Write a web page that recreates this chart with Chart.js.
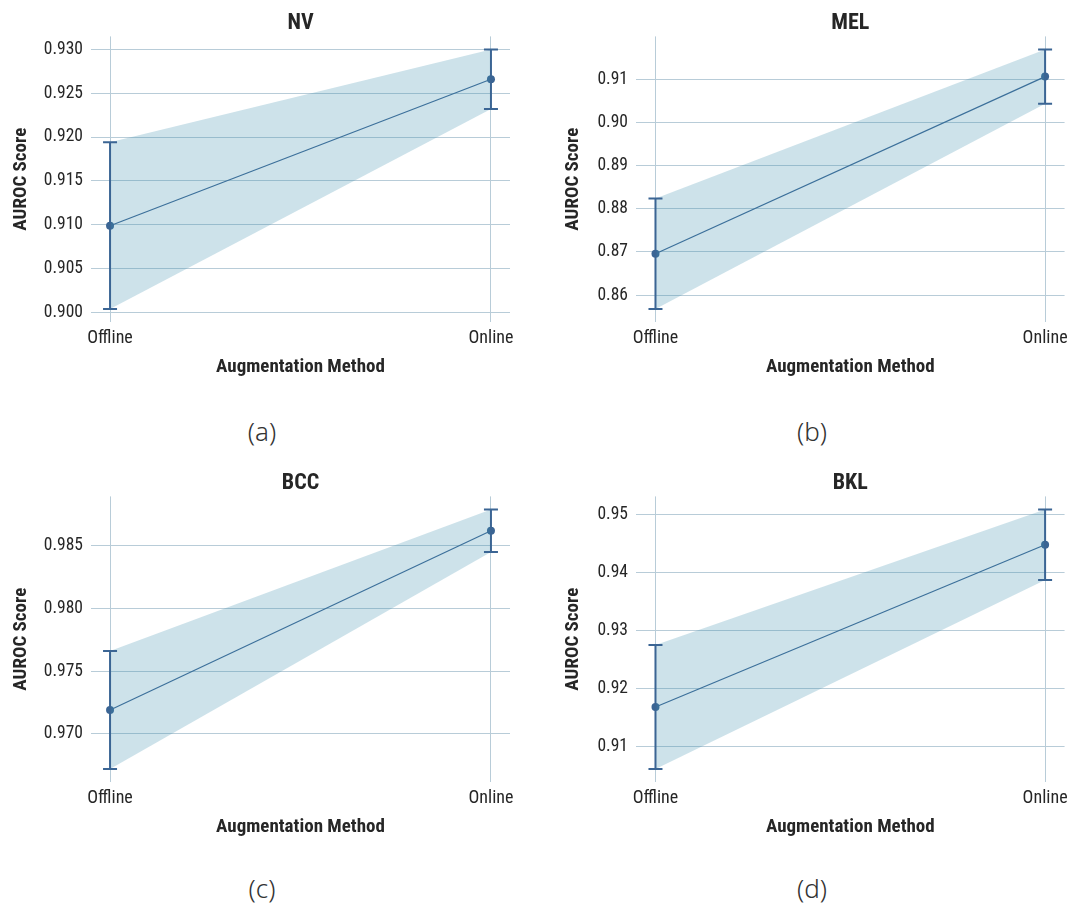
<!DOCTYPE html>
<html lang="en">
<head>
<meta charset="UTF-8">
<title>AUROC by augmentation method</title>
<script src="https://cdn.jsdelivr.net/npm/chart.js"></script>
<style>
    body {
        margin: 0;
        background: #fff;
        width: 1074px;
        height: 906px;
        position: relative;
        overflow: hidden;
    }
    .panel {
        position: absolute;
        height: 400px;
    }
    .caption {
        position: absolute;
        font-family: 'Noto Sans', sans-serif;
        font-weight: 300;
        font-size: 26px;
        color: #333;
        transform: translate(-50%, -50%);
    }
</style>
</head>
<body>
<div class="panel" style="left:0;top:0;width:530px"><canvas id="nv"></canvas></div>
<div class="panel" style="left:540px;top:0;width:534px"><canvas id="mel"></canvas></div>
<div class="panel" style="left:0;top:460px;width:530px"><canvas id="bcc"></canvas></div>
<div class="panel" style="left:540px;top:460px;width:534px"><canvas id="bkl"></canvas></div>

<div class="caption" style="left:262px;top:431px">(a)</div>
<div class="caption" style="left:812px;top:431px">(b)</div>
<div class="caption" style="left:262px;top:888px">(c)</div>
<div class="caption" style="left:812px;top:888px">(d)</div>

<script>
    const categories = ['Offline', 'Online'];

    const nvMean = [0.9099, 0.9266];
    const nvStd = [0.0095, 0.0034];
    const nvTicks = [0.900, 0.905, 0.910, 0.915, 0.920, 0.925, 0.930];

    const melMean = [0.8696, 0.9106];
    const melStd = [0.0128, 0.0063];
    const melTicks = [0.86, 0.87, 0.88, 0.89, 0.90, 0.91];

    const bccMean = [0.9719, 0.9862];
    const bccStd = [0.0047, 0.0017];
    const bccTicks = [0.970, 0.975, 0.980, 0.985];

    const bklMean = [0.9168, 0.9448];
    const bklStd = [0.0107, 0.0061];
    const bklTicks = [0.91, 0.92, 0.93, 0.94, 0.95];

    const FONT = "'Roboto Condensed', 'Liberation Sans Narrow', 'DejaVu Sans Condensed', Roboto, sans-serif";
    const LINE = '#3b6594';
    const GRID = '#b8ccd8';
    const TEXT = '#262626';

    // error bars drawn with the chart's own scales
    const errorBars = {
        id: 'errorBars',
        afterDatasetsDraw(chart, args, opts) {
            const { ctx, scales: { x, y } } = chart;
            ctx.save();
            ctx.strokeStyle = LINE;
            ctx.lineWidth = 2;
            opts.mean.forEach((m, i) => {
                const px = x.getPixelForValue(i);
                const top = y.getPixelForValue(m + opts.std[i]);
                const bot = y.getPixelForValue(m - opts.std[i]);
                ctx.beginPath();
                ctx.moveTo(px, top); ctx.lineTo(px, bot);
                ctx.moveTo(px - 7, top); ctx.lineTo(px + 7, top);
                ctx.moveTo(px - 7, bot); ctx.lineTo(px + 7, bot);
                ctx.stroke();
            });
            ctx.restore();
        }
    };

    function makeChart(id, title, mean, std, ticks, axisWidth, rightPad, yTitlePad) {
        const upper = mean.map((m, i) => ({ x: i, y: m + std[i] }));
        const lower = mean.map((m, i) => ({ x: i, y: m - std[i] }));
        const lo = Math.min(...lower.map(p => p.y));
        const hi = Math.max(...upper.map(p => p.y));
        const margin = (hi - lo) * 0.05;

        new Chart(document.getElementById(id), {
            type: 'line',
            data: {
                datasets: [
                    {
                        data: upper,
                        borderWidth: 0,
                        pointRadius: 0,
                        fill: false
                    },
                    {
                        data: lower,
                        borderWidth: 0,
                        pointRadius: 0,
                        fill: '-1',
                        backgroundColor: 'rgba(63,143,174,0.26)'
                    },
                    {
                        data: mean.map((m, i) => ({ x: i, y: m })),
                        borderColor: LINE,
                        borderWidth: 1.2,
                        pointRadius: 4,
                        pointBackgroundColor: LINE,
                        pointBorderWidth: 0,
                        fill: false
                    }
                ]
            },
            options: {
                responsive: true,
                maintainAspectRatio: false,
                animation: false,
                layout: { padding: { left: 0, right: rightPad, top: 0, bottom: 0 } },
                plugins: {
                    legend: { display: false },
                    tooltip: { enabled: false },
                    title: {
                        display: true,
                        text: title,
                        fullSize: false,
                        color: TEXT,
                        font: { family: FONT, size: 22, weight: 'bold', lineHeight: 1.2 },
                        padding: { top: 10, bottom: 0 }
                    },
                    errorBars: { mean: mean, std: std }
                },
                scales: {
                    x: {
                        type: 'linear',
                        min: -0.05,
                        max: 1.05,
                        afterBuildTicks: s => { s.ticks = [{ value: 0 }, { value: 1 }]; },
                        afterFit: s => { s.height = 78; },
                        ticks: {
                            callback: v => categories[v],
                            color: TEXT,
                            padding: 6,
                            maxRotation: 0,
                            font: { family: FONT, size: 18 }
                        },
                        grid: { color: GRID, lineWidth: 1, drawTicks: false },
                        border: { display: false },
                        title: {
                            display: true,
                            text: 'Augmentation Method',
                            color: TEXT,
                            font: { family: FONT, size: 19, weight: 'bold', lineHeight: 1.2 },
                            padding: { top: 0, bottom: 21 }
                        }
                    },
                    y: {
                        min: lo - margin,
                        max: hi + margin,
                        afterBuildTicks: s => { s.ticks = ticks.map(v => ({ value: v })); },
                        afterFit: s => { s.width = axisWidth; },
                        ticks: {
                            callback: v => v.toFixed(ticks[1] - ticks[0] < 0.01 ? 3 : 2),
                            color: TEXT,
                            padding: 8,
                            font: { family: FONT, size: 17.5 }
                        },
                        grid: { color: GRID, lineWidth: 1, drawTicks: false },
                        border: { display: false },
                        title: {
                            display: true,
                            text: 'AUROC Score',
                            color: TEXT,
                            font: { family: FONT, size: 19, weight: 'bold', lineHeight: 1.2 },
                            padding: { top: yTitlePad, bottom: 0 }
                        }
                    }
                }
            },
            plugins: [errorBars]
        });
    }

    makeChart('nv', 'NV', nvMean, nvStd, nvTicks, 91, 20, 10);
    makeChart('mel', 'MEL', melMean, melStd, melTicks, 96, 9, 22);
    makeChart('bcc', 'BCC', bccMean, bccStd, bccTicks, 91, 20, 10);
    makeChart('bkl', 'BKL', bklMean, bklStd, bklTicks, 96, 9, 22);
</script>
</body>
</html>
